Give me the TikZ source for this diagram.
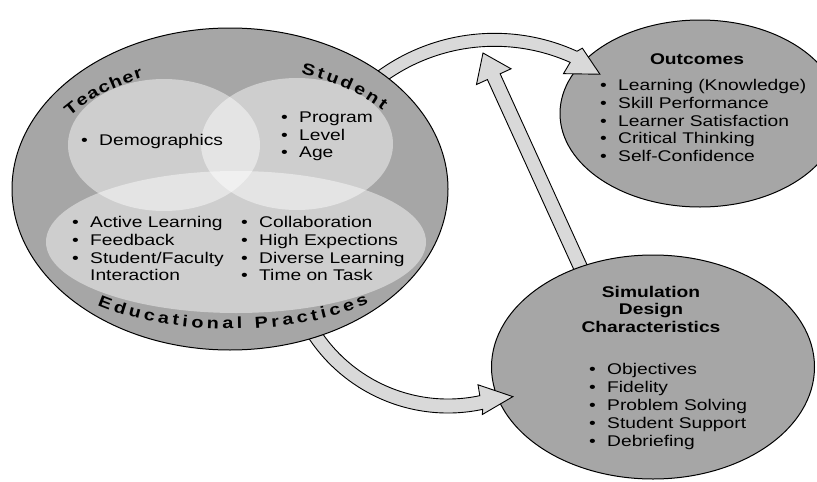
\documentclass[tikz,border=0pt]{standalone}
\usepackage{fontspec}
\newfontfamily\lsf[FakeStretch=1.24]{Liberation Sans}
\usetikzlibrary{shapes.geometric,calc,decorations.text}
\definecolor{dkgray}{HTML}{A6A6A6}
\definecolor{arrowgray}{HTML}{D9D9D9}
\newcommand\bulitem{\makebox[18pt][l]{•}}
\begin{document}
\begin{tikzpicture}[x=1pt,y=1pt,
  ell/.style={ellipse, draw=black, line width=1pt, fill=dkgray, inner sep=0pt},
  lite/.style={ellipse, fill=white, fill opacity=0.45, inner sep=0pt},
  blk/.style={fill=arrowgray, draw=black, line width=0.9pt, line join=miter},
  item/.style={anchor=base west, inner sep=0pt, font=\lsf\fontsize{15.5}{18}\selectfont},
  ttl/.style={anchor=base, inner sep=0pt, font=\lsf\bfseries\fontsize{15.5}{18}\selectfont},
  curv/.style={decorate, decoration={text along path, text align={fit to path},
     text={|\lsf\bfseries\fontsize{16}{18}\selectfont|#1}}}
]
\useasboundingbox (0,0) rectangle (817,-482);

% up arrow
\coordinate (ua) at (584,-275);
\coordinate (ub) at (483,-53);
\coordinate (uh) at ($(ub)!26pt!(ua)$);
\draw[blk] ($(ua)!7pt!90:(ub)$) -- ($(uh)!7pt!90:(ub)$) -- ($(uh)!19pt!90:(ub)$) -- (ub)
  -- ($(uh)!19pt!-90:(ub)$) -- ($(uh)!7pt!-90:(ub)$) -- ($(ua)!7pt!-90:(ub)$) -- cycle;

% right ellipses
\node[ell, minimum width=323pt, minimum height=224pt] (sim) at (653,-367) {};
\node[ell, minimum width=280pt, minimum height=187pt] (out) at (700,-113.5) {};

% top arc arrow
\coordinate (ta) at (494.5,-232.3);
\draw[blk] ($(ta)+(135:199pt)$) arc[start angle=135, end angle=65.5, radius=199pt]
  -- ($(ta)+(64.5:204pt)$) -- ($(ta)+(56.3:190pt)$) -- ($(ta)+(66.5:173pt)$)
  -- ($(ta)+(66:186pt)$) arc[start angle=66, end angle=135, radius=186pt] -- cycle;

% bottom arc arrow
\coordinate (ba) at (448,-246);
\draw[blk] ($(ba)+(200:167pt)$) arc[start angle=200, end angle=282, radius=167pt]
  -- ($(ba)+(281.5:172pt)$) -- ($(ba)+(293.3:164pt)$) -- ($(ba)+(282.2:142pt)$)
  -- ($(ba)+(282:153pt)$) arc[start angle=282, end angle=200, radius=153pt] -- cycle;

% big ellipse
\node[ell, minimum width=436pt, minimum height=322pt] (edu) at (230,-189) {};
\node[lite, minimum width=192pt, minimum height=132pt] (tch) at (164,-145) {};
\node[lite, minimum width=192pt, minimum height=132pt] (stu) at (297,-144) {};
\node[lite, minimum width=380pt, minimum height=142pt] (prac) at (236,-242) {};

% curved labels
\coordinate (ec) at (230,-189);
\path[curv=Teacher] ($(ec)+(144:198pt and 124pt)$) arc[start angle=144, end angle=116, x radius=198pt, y radius=124pt];
\path[curv=Student] ($(ec)+(69:198pt and 124pt)$) arc[start angle=69, end angle=39.5, x radius=198pt, y radius=124pt];
\coordinate (bc) at (231,-236);
\path[curv=Educational Practices] ($(bc)+(228:200pt and 93pt)$) arc[start angle=228, end angle=313.5, x radius=200pt, y radius=93pt];

% inner texts
\node[item] (t1) at (81,-145) {\bulitem Demographics};
\node[item] (s1) at (281,-122) {\bulitem Program};
\node[item] (s2) at (281,-140) {\bulitem Level};
\node[item] (s3) at (281,-157.5) {\bulitem Age};
\node[item] (p1) at (72,-227) {\bulitem Active Learning};
\node[item] (p2) at (72,-245) {\bulitem Feedback};
\node[item] (p3) at (72,-263) {\bulitem Student/Faculty};
\node[item] (p4) at (90,-280.5) {Interaction};
\node[item] (q1) at (241,-227) {\bulitem Collaboration};
\node[item] (q2) at (241,-245) {\bulitem High Expections};
\node[item] (q3) at (241,-263) {\bulitem Diverse Learning};
\node[item] (q4) at (241,-280.5) {\bulitem Time on Task};

% outcomes
\node[ttl] (ot) at (697,-64) {Outcomes};
\node[item] (o1) at (600,-90.5) {\bulitem Learning (Knowledge)};
\node[item] (o2) at (600,-108.3) {\bulitem Skill Performance};
\node[item] (o3) at (600,-126) {\bulitem Learner Satisfaction};
\node[item] (o4) at (600,-143.8) {\bulitem Critical Thinking};
\node[item] (o5) at (600,-161.5) {\bulitem Self-Confidence};

% simulation
\node[ttl] (st1) at (651,-297) {Simulation};
\node[ttl] (st2) at (651,-314.5) {Design};
\node[ttl] (st3) at (651,-332) {Characteristics};
\node[item] (d1) at (589,-374) {\bulitem Objectives};
\node[item] (d2) at (589,-392) {\bulitem Fidelity};
\node[item] (d3) at (589,-410) {\bulitem Problem Solving};
\node[item] (d4) at (589,-428) {\bulitem Student Support};
\node[item] (d5) at (589,-446) {\bulitem Debriefing};
\end{tikzpicture}
\end{document}
